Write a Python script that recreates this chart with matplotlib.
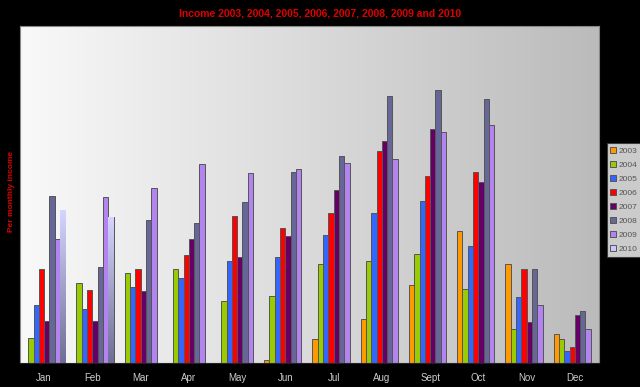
import numpy as np
import matplotlib
matplotlib.use("Agg")
import matplotlib.pyplot as plt
from matplotlib.colors import LinearSegmentedColormap

plt.rcParams["font.family"] = ["Liberation Sans", "DejaVu Sans"]

months = ["Jan", "Feb", "Mar", "Apr", "May", "Jun", "Jul", "Aug", "Sept", "Oct", "Nov", "Dec"]
years = ["2003", "2004", "2005", "2006", "2007", "2008", "2009", "2010"]

# values (no y scale shown, arbitrary units)
inc_2003 = [0, 0, 0, 0, 0, 3, 24, 44, 78, 132, 99, 29]
inc_2004 = [25, 80, 90, 94, 62, 67, 99, 102, 109, 74, 34, 24]
inc_2005 = [58, 54, 76, 85, 102, 106, 128, 150, 162, 117, 66, 12]
inc_2006 = [94, 73, 94, 108, 147, 135, 150, 212, 187, 191, 94, 16]
inc_2007 = [42, 42, 72, 124, 106, 127, 173, 222, 234, 181, 41, 48]
inc_2008 = [167, 96, 143, 140, 161, 191, 207, 267, 273, 264, 94, 52]
inc_2009 = [124, 166, 175, 199, 190, 194, 200, 204, 231, 238, 58, 34]
inc_2010 = [153, 146, 0, 0, 0, 0, 0, 0, 0, 0, 0, 0]

series = [inc_2003, inc_2004, inc_2005, inc_2006, inc_2007, inc_2008, inc_2009, inc_2010]
colors = ["#FF9900", "#99CC00", "#3366FF", "#FF0000", "#660066", "#666699", "#B383F0", "#C8C8FA"]

fig = plt.figure(figsize=(6.4, 3.87), dpi=100, facecolor="black")
ax = fig.add_axes([20 / 640, 24 / 387, 579 / 640, 337 / 387])

# horizontal gradient background
grad = np.linspace(0, 1, 256).reshape(1, -1)
bg = LinearSegmentedColormap.from_list("bg", ["#F9F9F9", "#BBBBBB"])
ax.imshow(grad, extent=[0, 1, 0, 1], transform=ax.transAxes, cmap=bg,
          aspect="auto", zorder=0)

x = np.arange(len(months))
w = 0.11
fade = LinearSegmentedColormap.from_list("fade", ["#6E6E96", "#D4D4FF"])
for i, (vals, c, yr) in enumerate(zip(series, colors, years)):
    bars = ax.bar(x + (i - 3.5) * w, vals, w, color=c, edgecolor="#555555",
                  linewidth=0.7, label=yr, zorder=2)
    if yr == "2010":
        # light-to-dark vertical fade like the original
        for b in bars:
            if b.get_height() <= 0:
                continue
            x0, y0 = b.get_x(), b.get_y()
            im = ax.imshow(np.linspace(0, 1, 100).reshape(-1, 1), cmap=fade,
                           origin="lower", aspect="auto",
                           extent=[x0, x0 + b.get_width(), y0, y0 + b.get_height()],
                           zorder=2.5)
            im.set_clip_path(b)

ax.set_xlim(-0.5, len(months) - 0.5)
ax.set_ylim(0, 337)
ax.set_xticks(x)
ax.set_xticklabels(months, color="#CCCCCC", fontsize=7)
ax.tick_params(axis="x", length=0, pad=7)
ax.set_yticks([])
for s in ["top", "right", "left"]:
    ax.spines[s].set_color("#888888")
    ax.spines[s].set_linewidth(0.8)
ax.spines["bottom"].set_color("#222222")

fig.text(0.5, 1 - 13 / 387, "Income 2003, 2004, 2005, 2006, 2007, 2008, 2009 and 2010",
         color="#DD0000", fontsize=7.5, fontweight="bold", ha="center", va="center",
         family=["Liberation Sans Narrow", "DejaVu Sans Condensed", "Liberation Sans"])
fig.text(12 / 640, 1 - 191 / 387, "Per monthly income", color="#DD0000", fontsize=6,
         fontweight="bold", rotation=90, ha="center", va="center")

leg = fig.legend(loc="center left", bbox_to_anchor=(607 / 640, 1 - 200 / 387),
                 fontsize=6, frameon=True, fancybox=False, handlelength=0.7,
                 handleheight=0.7, handletextpad=0.3, labelspacing=0.75,
                 borderpad=0.4, borderaxespad=0)
leg.get_frame().set_edgecolor("#333333")
leg.get_frame().set_linewidth(0.8)
for t in leg.get_texts():
    t.set_color("#555555")

fig.savefig("out.png", dpi=100, facecolor="black")
